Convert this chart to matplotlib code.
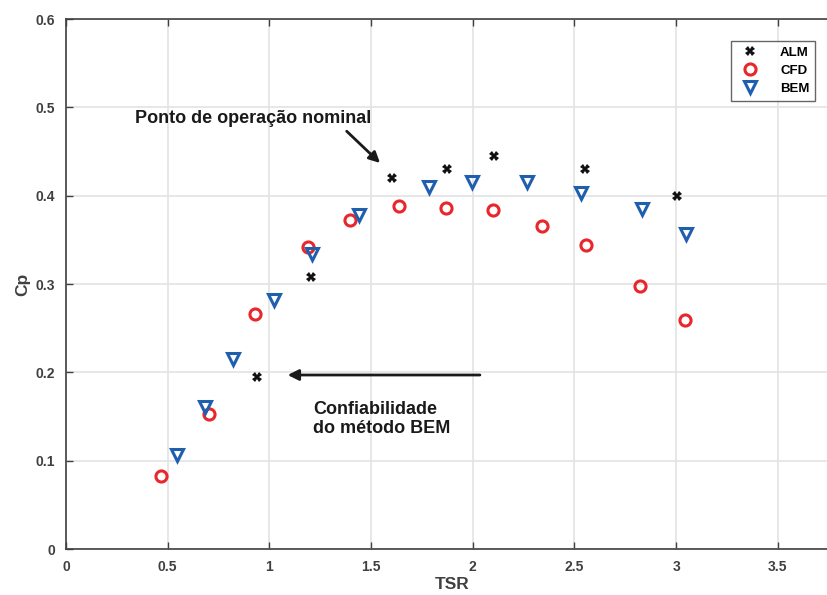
import matplotlib
matplotlib.use("Agg")
import matplotlib.pyplot as plt

# Cp vs TSR
alm_tsr = [0.937, 1.206, 1.605, 1.874, 2.105, 2.554, 3.006]
alm_cp = [0.195, 0.308, 0.420, 0.430, 0.445, 0.430, 0.400]

cfd_tsr = [0.466, 0.705, 0.929, 1.191, 1.396, 1.637, 1.868, 2.099, 2.340, 2.557, 2.822, 3.043]
cfd_cp = [0.083, 0.153, 0.266, 0.342, 0.372, 0.388, 0.386, 0.384, 0.366, 0.344, 0.298, 0.259]

bem_tsr = [0.547, 0.683, 0.819, 1.024, 1.208, 1.440, 1.786, 1.998, 2.265, 2.530, 2.833, 3.047]
bem_cp = [0.106, 0.161, 0.215, 0.282, 0.334, 0.378, 0.410, 0.415, 0.415, 0.403, 0.385, 0.357]

x_ticks = [0, 0.5, 1, 1.5, 2, 2.5, 3, 3.5]
x_tick_labels = ["0", "0.5", "1", "1.5", "2", "2.5", "3", "3.5"]
y_ticks = [0, 0.1, 0.2, 0.3, 0.4, 0.5, 0.6]
y_tick_labels = ["0", "0.1", "0.2", "0.3", "0.4", "0.5", "0.6"]

plt.rcParams["font.family"] = ["Liberation Sans", "DejaVu Sans"]
plt.rcParams["font.weight"] = "bold"

axc = "#404040"
fig = plt.figure(figsize=(8.27, 5.95), dpi=100)
# axes runs a little past the right edge like the cropped original
ax = fig.add_axes([0.0798, 0.0773, 0.9346, 0.8907])

ax.plot(alm_tsr, alm_cp, linestyle="none", marker="X", markersize=7,
        color="#111111", markeredgewidth=0, label="ALM", zorder=3)
ax.plot(cfd_tsr, cfd_cp, linestyle="none", marker="o", markersize=8,
        markerfacecolor="none", markeredgecolor="#e8262b", markeredgewidth=2.2,
        label="CFD", zorder=3)
ax.plot(bem_tsr, bem_cp, linestyle="none", marker="v", markersize=9,
        markerfacecolor="none", markeredgecolor="#1f5fae", markeredgewidth=2.2,
        label="BEM", zorder=3)

ax.set_xlim(0, 3.8)
ax.set_ylim(0, 0.6)
ax.set_xticks(x_ticks)
ax.set_xticklabels(x_tick_labels)
ax.set_yticks(y_ticks)
ax.set_yticklabels(y_tick_labels)
ax.tick_params(direction="in", length=5, width=1, colors=axc, labelsize=10,
               top=True, pad=8)
for s in ax.spines.values():
    s.set_color(axc)
    s.set_linewidth(1.2)
ax.grid(True, color="#e3e3e3", linewidth=1.2)
ax.set_axisbelow(True)

ax.set_xlabel("TSR", fontsize=12.5, fontweight="bold", color=axc, labelpad=2)
ax.set_ylabel("Cp", fontsize=12.5, fontweight="bold", color=axc, labelpad=4)

ax.annotate("", xy=(1.544, 0.437), xytext=(1.38, 0.473),
            arrowprops=dict(arrowstyle="-|>", color="#1a1a1a", lw=2,
                            mutation_scale=16, shrinkA=0, shrinkB=0))
ax.text(0.34, 0.487, "Ponto de operação nominal", fontsize=13,
        fontweight="bold", color="#1a1a1a", va="center", ha="left")

ax.annotate("", xy=(1.09, 0.197), xytext=(2.035, 0.197),
            arrowprops=dict(arrowstyle="-|>", color="#1a1a1a", lw=2,
                            mutation_scale=16, shrinkA=0, shrinkB=0))
ax.text(1.214, 0.147, "Confiabilidade\ndo método BEM", fontsize=13,
        fontweight="bold", color="#1a1a1a", va="center", ha="left",
        linespacing=1.15)

leg = ax.legend(loc="upper right", bbox_to_anchor=(822 / 827, 1 - 34 / 595),
                bbox_transform=fig.transFigure, fontsize=9.5, frameon=True,
                fancybox=False, edgecolor=axc, borderpad=0.45,
                handletextpad=1.3, labelspacing=0.45, markerfirst=True)
leg.get_frame().set_linewidth(1)
for t in leg.get_texts():
    t.set_fontweight("bold")

fig.savefig("out.png", dpi=100)
